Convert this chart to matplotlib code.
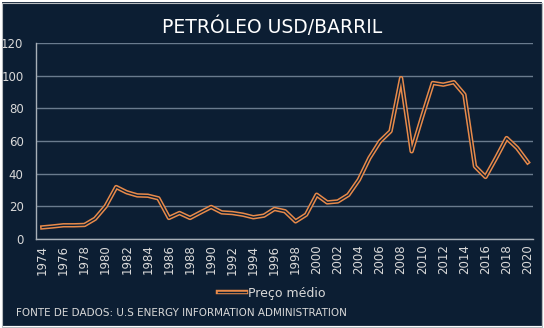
import matplotlib
matplotlib.use("Agg")
import matplotlib.pyplot as plt
import matplotlib.patheffects as pe
from matplotlib.patches import Rectangle

years = list(range(1974, 2021))
prices = [7.1, 7.7, 8.4, 8.4, 8.6, 12.4, 20.0, 31.8, 28.6, 26.7, 26.5, 24.9,
          12.9, 15.9, 12.9, 16.3, 19.6, 16.3, 15.9, 14.9, 13.3, 14.3, 18.4, 17.0,
          10.8, 14.9, 27.1, 22.4, 23.0, 27.0, 36.3, 49.6, 59.8, 66.0, 98.5, 53.7,
          75.0, 95.5, 94.5, 96.0, 88.4, 44.5, 38.0, 49.6, 61.8, 55.7, 47.0]
yticks = [0, 20, 40, 60, 80, 100, 120]
xticks = list(range(1974, 2021, 2))

BG = "#0c1e33"
ORANGE = "#e88a4a"
GRID = "#6a7b8e"
TXT = "#d9d9d9"

fig = plt.figure(figsize=(5.44, 3.28), dpi=100, facecolor=BG)
fig.patches.append(Rectangle((0, 0), 1, 1, transform=fig.transFigure, fill=False,
                             edgecolor="white", linewidth=3.0, zorder=10))
fig.patches.append(Rectangle((1.5/544, 1.5/328), 540/544, 324/328, transform=fig.transFigure,
                             fill=False, edgecolor="#b8bcc0", linewidth=0.8, zorder=11))
ax = fig.add_axes([36/544, 1 - 239/328, (533 - 36)/544, (239 - 43)/328])
ax.set_facecolor(BG)

line, = ax.plot(years, prices, color=BG, lw=1.0, label="Preço médio", solid_joinstyle="round",
                path_effects=[pe.Stroke(linewidth=3.2, foreground=ORANGE), pe.Normal()], zorder=3)

ax.set_ylim(0, 120)
ax.set_xlim(1973.4, 2020.5)
ax.set_yticks(yticks)
ax.set_xticks(xticks)
ax.set_xticklabels([str(x) for x in xticks], rotation=90)
ax.yaxis.grid(True, color=GRID, lw=1.0)
ax.set_axisbelow(True)
for s in ["top", "right"]:
    ax.spines[s].set_visible(False)
for s in ["left", "bottom"]:
    ax.spines[s].set_color("#a8b0b8")
    ax.spines[s].set_linewidth(1.0)
ax.tick_params(axis="both", length=0, colors=TXT, labelsize=8.5)
ax.tick_params(axis="y", pad=9)
ax.tick_params(axis="x", pad=4)

fig.text(0.5, 1 - 27/328, "PETRÓLEO USD/BARRIL", ha="center", va="center",
         color="white", fontsize=13.5, fontfamily="DejaVu Sans")

leg = fig.legend(handles=[line], loc="center", bbox_to_anchor=(0.5, 1 - 293/328),
                 frameon=False, fontsize=9, labelcolor=TXT, handlelength=2.2,
                 handletextpad=0.2)

fig.text(16/544, 1 - 313/328, "FONTE DE DADOS: U.S ENERGY INFORMATION ADMINISTRATION",
         ha="left", va="center", color=TXT, fontsize=7.5)

fig.savefig("out.png", dpi=100, facecolor=BG)
